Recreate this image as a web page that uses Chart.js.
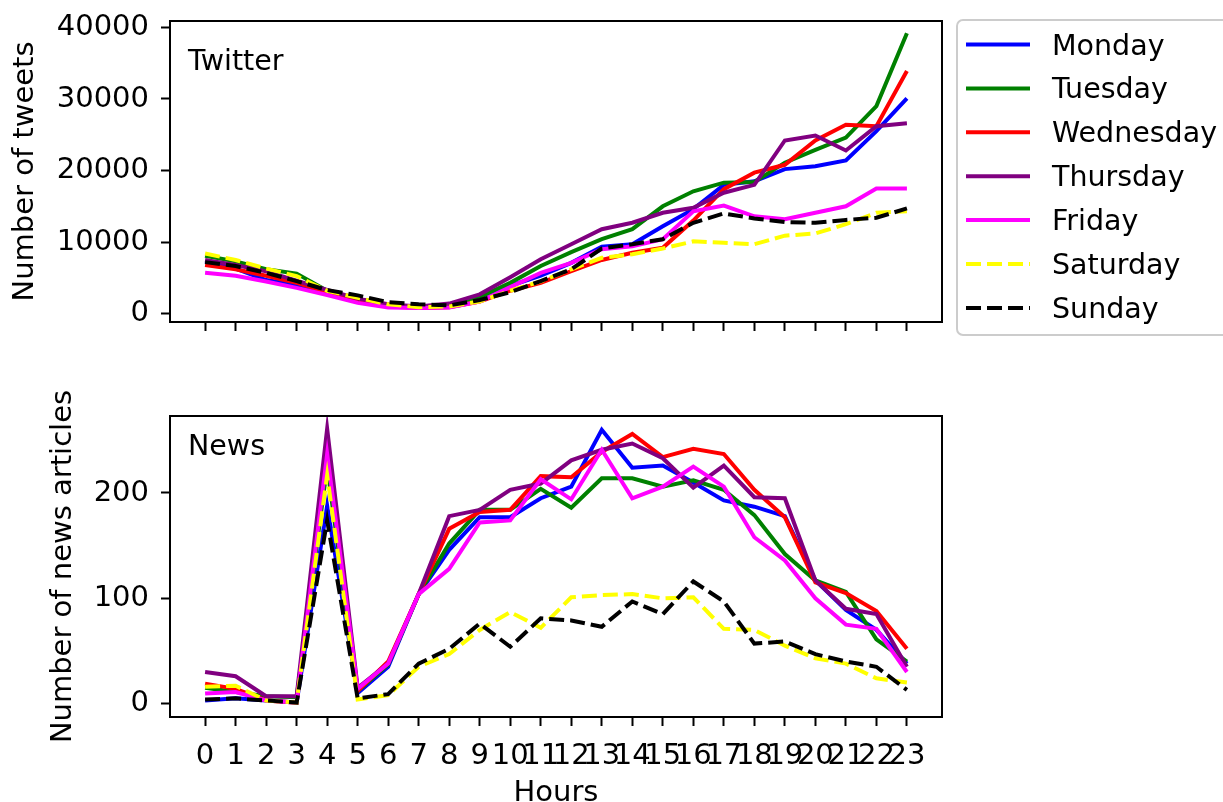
<!DOCTYPE html>
<html>
<head>
<meta charset="utf-8">
<script src="https://cdn.jsdelivr.net/npm/chart.js@4.4.1/dist/chart.umd.min.js"></script>
<style>
body { margin: 0; background: #fff; width: 1223px; height: 802px; overflow: hidden; position: relative; }
canvas { position: absolute; left: 0; }
#top { top: 0; }
#bottom { top: 380px; }
</style>
</head>
<body>
<canvas id="top" width="1223" height="340"></canvas>
<canvas id="bottom" width="1223" height="422"></canvas>
<script>
// hours of the day
const hours = [0, 1, 2, 3, 4, 5, 6, 7, 8, 9, 10, 11, 12, 13, 14, 15, 16, 17, 18, 19, 20, 21, 22, 23]
const days = ['Monday', 'Tuesday', 'Wednesday', 'Thursday', 'Friday', 'Saturday', 'Sunday']
const colors = ['#0000ff', '#008000', '#ff0000', '#800080', '#ff00ff', '#ffff00', '#000000']
const dashed = [false, false, false, false, false, true, true]

// tweets per hour
const tweetsMonday = [7300, 6300, 4700, 4000, 3000, 1900, 1100, 900, 1000, 1900, 3900, 5300, 7100, 9350, 9700, 12200, 14600, 18000, 18500, 20200, 20600, 21400, 25500, 30100]
const tweetsTuesday = [8100, 7300, 6200, 5600, 3200, 2000, 1200, 900, 1000, 2300, 4300, 6650, 8600, 10400, 11800, 15000, 17100, 18300, 18400, 21100, 22900, 24600, 29000, 39200]
const tweetsWednesday = [6800, 6200, 5300, 4300, 3000, 1900, 1000, 800, 900, 1700, 3200, 4300, 5950, 7500, 8500, 9200, 13000, 17400, 19700, 20800, 24200, 26400, 26200, 33900]
const tweetsThursday = [7500, 6800, 5900, 4600, 3300, 2100, 1300, 1000, 1400, 2700, 5100, 7600, 9700, 11800, 12700, 14100, 14800, 16900, 18000, 24200, 24900, 22800, 26200, 26600]
const tweetsFriday = [5700, 5300, 4500, 3600, 2600, 1500, 850, 800, 850, 1700, 3700, 5700, 7100, 9000, 9400, 10400, 14300, 15100, 13600, 13200, 14100, 15000, 17500, 17500]
const tweetsSaturday = [8400, 7500, 6300, 5250, 3200, 2200, 1300, 900, 1000, 1700, 3200, 4500, 6200, 7800, 8300, 9100, 10100, 9900, 9700, 10900, 11200, 12500, 14100, 14300]
const tweetsSunday = [7200, 6650, 5700, 4550, 3300, 2550, 1600, 1300, 1150, 1900, 3000, 4550, 6200, 9100, 9700, 10400, 12700, 14000, 13300, 12800, 12700, 13100, 13400, 14700]

// news articles per hour
const newsMonday = [3, 5, 3, 1, 188, 10, 35, 104, 146, 177, 177, 195, 206, 260, 224, 226, 210, 193, 187, 178, 117, 89, 70, 38]
const newsTuesday = [15, 11, 7, 6, 225, 12, 37, 104, 152, 184, 184, 204, 186, 214, 214, 206, 212, 203, 179, 142, 117, 106, 61, 40]
const newsWednesday = [19, 14, 3, 1, 245, 12, 40, 104, 166, 182, 184, 216, 215, 239, 256, 234, 242, 237, 203, 177, 115, 105, 88, 52]
const newsThursday = [30, 26, 7, 7, 261, 15, 38, 104, 178, 184, 203, 209, 231, 241, 247, 233, 205, 226, 196, 195, 117, 90, 85, 35]
const newsFriday = [9.5, 11, 3, 1, 237, 14, 38, 104, 128, 172, 174, 213, 194, 241, 195, 206, 225, 206, 158, 136, 100, 75, 71, 30]
const newsSaturday = [16, 17, 3, 1, 217, 4, 8, 35, 47, 70, 87, 72, 101, 103, 104, 100, 101, 71, 70, 55, 43, 38, 24, 20]
const newsSunday = [4, 5, 3, 1, 174, 5, 9, 38, 52, 76, 54, 81, 79, 73, 97, 85, 116, 97, 57, 59, 47, 40, 35, 13]

const tweetTicks = [0, 10000, 20000, 30000, 40000]
const newsTicks = [0, 100, 200]

const tweets = [tweetsMonday, tweetsTuesday, tweetsWednesday, tweetsThursday, tweetsFriday, tweetsSaturday, tweetsSunday]
const news = [newsMonday, newsTuesday, newsWednesday, newsThursday, newsFriday, newsSaturday, newsSunday]

const fonte = "'DejaVu Sans', sans-serif"
Chart.defaults.font.family = fonte
Chart.defaults.font.size = 29
Chart.defaults.color = '#000'

const dash = [15, 6]
const espessura = 4

function montaDatasets(series) {
    return series.map((valores, i) => ({
        label: days[i],
        data: valores,
        borderColor: colors[i],
        backgroundColor: colors[i],
        borderWidth: espessura,
        borderDash: dashed[i] ? dash : [],
        pointRadius: 0,
        tension: 0,
        fill: false,
        order: 7 - i
    }))
}

// axes box + panel label
const moldura = {
    id: 'moldura',
    afterDraw(chart, args, opts) {
        const { ctx, chartArea } = chart
        ctx.save()
        ctx.strokeStyle = '#000'
        ctx.lineWidth = 2
        ctx.strokeRect(chartArea.left, chartArea.top, chartArea.right - chartArea.left, chartArea.bottom - chartArea.top)
        ctx.fillStyle = '#000'
        ctx.font = '28.5px ' + fonte
        ctx.textBaseline = 'alphabetic'
        ctx.fillText(opts.texto, chartArea.left + 18, chartArea.top + opts.base)
        ctx.restore()
    }
}

const legenda = {
    id: 'legenda',
    afterDraw(chart) {
        const ctx = chart.ctx
        ctx.save()
        ctx.beginPath()
        ctx.roundRect(957, 20, 300, 315, 6)
        ctx.fillStyle = '#fff'
        ctx.fill()
        ctx.strokeStyle = '#cccccc'
        ctx.lineWidth = 2
        ctx.stroke()
        ctx.font = '28.5px ' + fonte
        ctx.textBaseline = 'alphabetic'
        chart.data.datasets.forEach((ds, i) => {
            const y = 44.5 + i * 43.9
            ctx.beginPath()
            ctx.setLineDash(ds.borderDash)
            ctx.strokeStyle = ds.borderColor
            ctx.lineWidth = espessura
            ctx.moveTo(966, y)
            ctx.lineTo(1030, y)
            ctx.stroke()
            ctx.setLineDash([])
            ctx.fillStyle = '#000'
            ctx.fillText(ds.label, 1052, y + 10)
        })
        ctx.restore()
    }
}

function grafico(canvas, series, cfg) {
    return new Chart(canvas, {
        type: 'line',
        data: { labels: hours, datasets: montaDatasets(series) },
        options: {
            responsive: false,
            animation: false,
            devicePixelRatio: 1,
            layout: { padding: { top: cfg.topo, right: 281, left: 0, bottom: 0 } },
            plugins: {
                legend: { display: false },
                tooltip: { enabled: false },
                moldura: { texto: cfg.texto, base: cfg.base }
            },
            scales: {
                x: {
                    type: 'linear',
                    min: -1.15,
                    max: 24.15,
                    afterBuildTicks: (s) => { s.ticks = hours.map(v => ({ value: v })) },
                    afterFit: (s) => { s.height = cfg.alturaX; s.paddingLeft = 0; s.paddingRight = 0 },
                    grid: { drawOnChartArea: false, color: '#000', tickLength: 9, tickWidth: 2 },
                    border: { display: false },
                    ticks: { display: cfg.rotulosX, padding: 13, autoSkip: false, minRotation: 0, maxRotation: 0, callback: (v) => String(v) },
                    title: { display: cfg.rotulosX, text: 'Hours', padding: { top: 4, bottom: -9 } }
                },
                y: {
                    min: cfg.ymin,
                    max: cfg.ymax,
                    afterBuildTicks: (s) => { s.ticks = cfg.yticks.map(v => ({ value: v })) },
                    afterFit: (s) => { s.width = 170; s.paddingTop = 0; s.paddingBottom = 0 },
                    grid: { drawOnChartArea: false, color: '#000', tickLength: 9, tickWidth: 2 },
                    border: { display: false },
                    ticks: { padding: 12, callback: (v) => String(v) },
                    title: { display: true, text: cfg.tituloY, padding: { top: cfg.recuoY, bottom: 0 } }
                }
            }
        },
        plugins: cfg.legenda ? [moldura, legenda] : [moldura]
    })
}

grafico(document.getElementById('top'), tweets, {
    topo: 21, alturaX: 18, rotulosX: false, ymin: -1170, ymax: 40900, yticks: tweetTicks,
    tituloY: 'Number of tweets', recuoY: 8, texto: 'Twitter', base: 49, legenda: true
})

grafico(document.getElementById('bottom'), news, {
    topo: 36, alturaX: 85, rotulosX: true, ymin: -12.7, ymax: 273.1, yticks: newsTicks,
    tituloY: 'Number of news articles', recuoY: 46, texto: 'News', base: 39, legenda: false
})
</script>
</body>
</html>
